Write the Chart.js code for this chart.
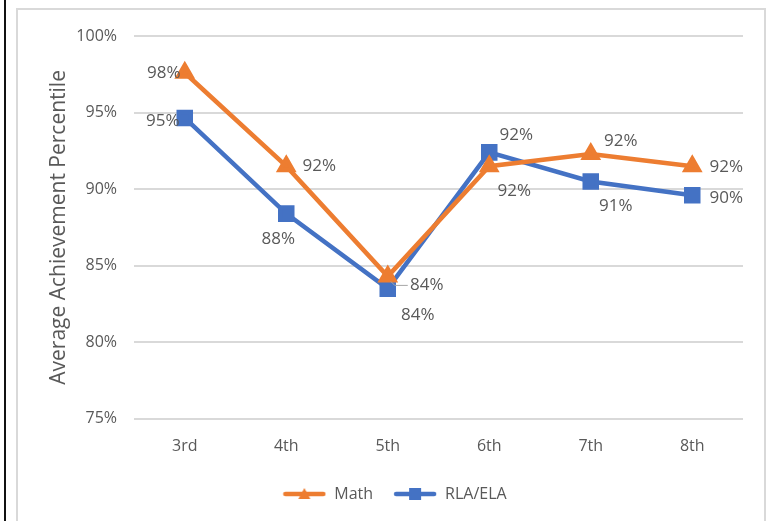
<!DOCTYPE html>
<html>
<head>
<meta charset="utf-8">
<script src="https://cdn.jsdelivr.net/npm/chart.js@4.4.1/dist/chart.umd.min.js"></script>
<style>
  body { margin: 0; background: #fff; }
  #wrap { position: relative; width: 767px; height: 521px; overflow: hidden; }
  #blackline { position: absolute; left: 4px; top: 0; width: 2px; height: 521px; background: #111; }
  #frame { position: absolute; left: 16px; top: 8px; width: 746px; height: 530px; border: 2px solid #d9d9d9; }
  #chartbox { position: absolute; left: 0; top: 0; width: 767px; height: 521px; }
</style>
</head>
<body>
<div id="wrap">
  <div id="blackline"></div>
  <div id="frame"></div>
  <div id="chartbox"><canvas id="chart"></canvas></div>
</div>
<script>
// chart data
const grades = ["3rd", "4th", "5th", "6th", "7th", "8th"];
const mathScores = [97.6, 91.5, 84.3, 91.5, 92.3, 91.5];
const elaScores = [94.65, 88.4, 83.5, 92.4, 90.5, 89.6];
const yTicks = [75, 80, 85, 90, 95, 100];

// where each value label sits relative to its point (px)
const mathLabelOffset = [[-21, 0], [33, 0], [39, 9], [25, 25], [30, -13], [34, 1]];
const elaLabelOffset = [[-22, 3], [-8, 26], [30, 27], [27, -17], [25, 25], [34, 3]];

const FONT = "'Open Sans', 'Liberation Sans', sans-serif";
const TEXT = "#595959";
const ORANGE = "#ED7D31";
const BLUE = "#4472C4";

// small legend swatch: line with marker in the middle
function legendSwatch(color, shape) {
  const c = document.createElement("canvas");
  c.width = 44; c.height = 14;
  const g = c.getContext("2d");
  g.strokeStyle = color;
  g.lineWidth = 4.5;
  g.lineCap = "round";
  g.beginPath(); g.moveTo(3, 7); g.lineTo(41, 7); g.stroke();
  g.fillStyle = color;
  if (shape === "triangle") {
    g.beginPath(); g.moveTo(22, 1); g.lineTo(28, 12); g.lineTo(16, 12); g.closePath(); g.fill();
  } else {
    g.fillRect(16, 1, 12, 12);
  }
  return c;
}

const valueLabels = {
  id: "valueLabels",
  afterDatasetsDraw(chart) {
    const ctx = chart.ctx;
    ctx.save();
    ctx.font = "17px " + FONT;
    ctx.fillStyle = TEXT;
    ctx.textAlign = "center";
    ctx.textBaseline = "middle";
    chart.data.datasets.forEach((ds, i) => {
      const meta = chart.getDatasetMeta(i);
      meta.data.forEach((pt, j) => {
        const off = ds.labelOffset[j];
        const x = pt.x + off[0], y = pt.y + off[1];
        if (ds.leader && ds.leader[j]) {
          ctx.strokeStyle = "#a6a6a6";
          ctx.lineWidth = 1;
          ctx.beginPath();
          ctx.moveTo(pt.x + 3, pt.y + 5);
          ctx.lineTo(pt.x + 7, pt.y + 9);
          ctx.lineTo(x - 19, y);
          ctx.stroke();
        }
        ctx.fillText(Math.round(ds.data[j]) + "%", x, y);
      });
    });
    ctx.restore();
  }
};

new Chart(document.getElementById("chart"), {
  type: "line",
  data: {
    labels: grades,
    datasets: [
      {
        label: "Math",
        data: mathScores,
        borderColor: ORANGE,
        backgroundColor: ORANGE,
        borderWidth: 4.5,
        pointStyle: "triangle",
        pointRadius: 7.5,
        pointHoverRadius: 7.5,
        labelOffset: mathLabelOffset,
        leader: [false, false, true, false, false, false],
        legendImg: legendSwatch(ORANGE, "triangle")
      },
      {
        label: "RLA/ELA",
        data: elaScores,
        borderColor: BLUE,
        backgroundColor: BLUE,
        borderWidth: 4.5,
        pointStyle: "rect",
        pointRadius: 8.5,
        pointHoverRadius: 8.5,
        labelOffset: elaLabelOffset,
        legendImg: legendSwatch(BLUE, "rect")
      }
    ]
  },
  options: {
    responsive: true,
    maintainAspectRatio: false,
    animation: false,
    layout: { padding: { left: 46, right: 24, top: 36, bottom: 9 } },
    plugins: {
      tooltip: { enabled: false },
      legend: {
        position: "bottom",
        labels: {
          usePointStyle: true,
          pointStyleWidth: 44,
          padding: 20,
          color: TEXT,
          font: { family: FONT, size: 16 },
          generateLabels(chart) {
            return chart.data.datasets.map((ds, i) => ({
              text: ds.label,
              pointStyle: ds.legendImg,
              fillStyle: ds.borderColor,
              strokeStyle: ds.borderColor,
              lineWidth: 0,
              fontColor: TEXT,
              datasetIndex: i
            }));
          }
        }
      }
    },
    scales: {
      x: {
        offset: true,
        grid: { display: false, offset: true },
        border: { display: false },
        ticks: { color: TEXT, font: { family: FONT, size: 16 }, padding: 10 }
      },
      y: {
        min: 75,
        max: 100,
        afterFit(scale) { scale.width = 88; },
        afterBuildTicks(scale) { scale.ticks = yTicks.map(v => ({ value: v })); },
        grid: { color: "#d9d9d9", lineWidth: 2, drawTicks: false },
        border: { display: false },
        ticks: {
          color: TEXT,
          padding: 17,
          font: { family: FONT, size: 16 },
          callback: v => v + "%"
        },
        title: {
          display: true,
          text: "Average Achievement Percentile",
          color: TEXT,
          padding: 0,
          font: { family: FONT, size: 21 }
        }
      }
    }
  },
  plugins: [valueLabels]
});
</script>
</body>
</html>
